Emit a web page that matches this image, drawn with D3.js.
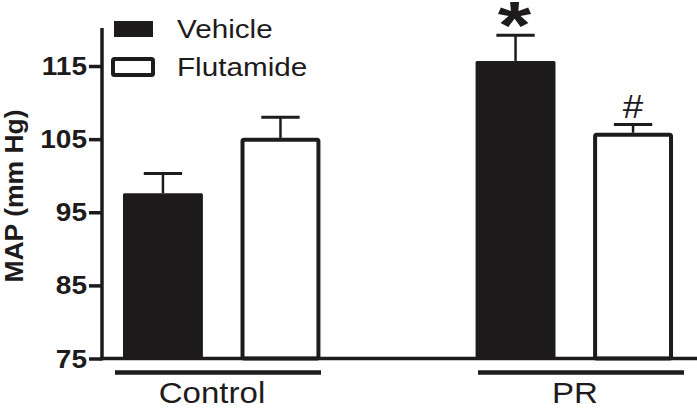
<!DOCTYPE html>
<html>
<head>
<meta charset="utf-8">
<script src="https://cdnjs.cloudflare.com/ajax/libs/d3/7.8.5/d3.min.js"></script>
<style>
  html, body { margin: 0; padding: 0; background: #ffffff; }
  svg { display: block; }
  text { font-family: "Liberation Sans", Arial, Helvetica, sans-serif; fill: #1e1b1c; }
</style>
</head>
<body>
<svg id="chart" width="697" height="409"></svg>
<script>
// ---- data ----
const categories = ["Control", "PR"];
const treatments = ["Vehicle", "Flutamide"];
const vehicleMeans = [97.6, 115.7];
const vehicleErr = [2.7, 3.5];
const flutamideMeans = [104.9, 105.6];
const flutamideErr = [3.1, 1.4];
const yTicks = [75, 85, 95, 105, 115];
const yDomain = [75, 120.2];
const yTitle = "MAP (mm Hg)";
const sigMarks = [
  { category: "PR", treatment: "Vehicle", mark: "*" },
  { category: "PR", treatment: "Flutamide", mark: "#" }
];

// ---- build rows ----
const rows = [];
categories.forEach((c, i) => {
  rows.push({ category: c, treatment: "Vehicle", mean: vehicleMeans[i], err: vehicleErr[i] });
  rows.push({ category: c, treatment: "Flutamide", mean: flutamideMeans[i], err: flutamideErr[i] });
});
const slotKey = d => d.category + "|" + d.treatment;
const slots = [];
categories.forEach((c, i) => {
  if (i > 0) slots.push("gap" + i);
  treatments.forEach(t => slots.push(c + "|" + t));
});

const ink = "#1e1b1c";
const svg = d3.select("#chart");
const SX = 1.12; // horizontal text stretch of the original figure

const y = d3.scaleLinear().domain(yDomain).range([358.5, 28]);
const x = d3.scaleBand().domain(slots).range([103, 693]).paddingInner(0.32).paddingOuter(0.17);
const bw = x.bandwidth();
const gx = d3.scaleBand().domain(categories).range([115, 684]).paddingInner(0.4325).paddingOuter(0);

// ---- bars ----
const barStroke = 4;
svg.append("g").selectAll("rect").data(rows).join("rect")
  .attr("x", d => d.treatment === "Vehicle" ? x(slotKey(d)) : x(slotKey(d)) + barStroke / 2)
  .attr("width", d => d.treatment === "Vehicle" ? bw : bw - barStroke)
  .attr("y", d => y(d.mean))
  .attr("height", d => y(yDomain[0]) - y(d.mean))
  .attr("rx", 1.5)
  .attr("fill", d => d.treatment === "Vehicle" ? ink : "#ffffff")
  .attr("stroke", d => d.treatment === "Vehicle" ? "none" : ink)
  .attr("stroke-width", barStroke);

// ---- error bars ----
const eg = svg.append("g").attr("stroke", ink);
eg.selectAll("line.v").data(rows).join("line")
  .attr("class", "v")
  .attr("x1", d => x(slotKey(d)) + bw / 2).attr("x2", d => x(slotKey(d)) + bw / 2)
  .attr("y1", d => y(d.mean) - (d.treatment === "Vehicle" ? 0 : barStroke / 2))
  .attr("y2", d => y(d.mean + d.err))
  .attr("stroke-width", 2.5);
eg.selectAll("line.c").data(rows).join("line")
  .attr("class", "c")
  .attr("x1", d => x(slotKey(d)) + bw / 2 - bw * 0.24)
  .attr("x2", d => x(slotKey(d)) + bw / 2 + bw * 0.24)
  .attr("y1", d => y(d.mean + d.err)).attr("y2", d => y(d.mean + d.err))
  .attr("stroke-width", 3);

// ---- significance marks ----
sigMarks.forEach(s => {
  const r = rows.find(d => d.category === s.category && d.treatment === s.treatment);
  const cx = x(slotKey(r)) + bw / 2;
  const top = y(r.mean + r.err);
  if (s.mark === "*") {
    svg.append("text")
      .attr("transform", `translate(${cx - 1},${top + 12.5}) scale(1.3,1)`)
      .attr("text-anchor", "middle")
      .style("font-size", "66px").style("font-weight", "bold")
      .text(s.mark);
  } else {
    svg.append("text")
      .attr("transform", `translate(${cx},${top - 7}) scale(${SX},1)`)
      .attr("text-anchor", "middle")
      .style("font-size", "33px")
      .text(s.mark);
  }
});

// ---- axes ----
const yAxis = d3.axisLeft(y).tickValues(yTicks).tickSize(13).tickSizeOuter(0).tickPadding(3);
const ag = svg.append("g").attr("transform", "translate(102,0)").call(yAxis);
ag.select(".domain").attr("stroke", ink).attr("stroke-width", 3.5)
  .attr("d", `M0,${y(yDomain[1])}V${y(yDomain[0]) + 1.75}`);
ag.selectAll(".tick line").attr("stroke", ink).attr("stroke-width", 3.5);
ag.selectAll(".tick text")
  .attr("x", null).attr("dy", null)
  .attr("transform", `translate(-15,8.5) scale(${SX},1)`)
  .attr("fill", ink)
  .style("font-size", "25px").style("font-weight", "bold")
  .style("font-family", "'Liberation Sans', Arial, sans-serif");

// baseline
svg.append("line")
  .attr("x1", 100).attr("x2", 697)
  .attr("y1", y(yDomain[0])).attr("y2", y(yDomain[0]))
  .attr("stroke", ink).attr("stroke-width", 3.5);

// y title
svg.append("text")
  .attr("transform", `translate(23,196) rotate(-90)`)
  .attr("text-anchor", "middle")
  .style("font-size", "26.5px").style("font-weight", "bold")
  .text(yTitle);

// ---- group underlines & labels ----
const gg = svg.append("g");
gg.selectAll("line").data(categories).join("line")
  .attr("x1", d => gx(d)).attr("x2", d => gx(d) + gx.bandwidth())
  .attr("y1", 372.5).attr("y2", 372.5)
  .attr("stroke", ink).attr("stroke-width", 4.5);
gg.selectAll("text").data(categories).join("text")
  .attr("transform", d => `translate(${gx(d) + gx.bandwidth() / 2 - 6},402.5) scale(${SX},1)`)
  .attr("text-anchor", "middle")
  .style("font-size", "29.5px")
  .text(d => d);

// ---- legend ----
const lg = svg.append("g");
treatments.forEach((t, i) => {
  const yy = 21 + i * 38;
  if (t === "Vehicle") {
    lg.append("rect").attr("x", 114).attr("y", yy).attr("width", 39).attr("height", 16).attr("fill", ink);
  } else {
    lg.append("rect").attr("x", 113).attr("y", yy).attr("width", 40).attr("height", 16)
      .attr("rx", 1.5).attr("fill", "#fff").attr("stroke", ink).attr("stroke-width", 4);
  }
  lg.append("text")
    .attr("transform", `translate(177,${yy + 16.5}) scale(${SX},1)`)
    .style("font-size", "26.5px")
    .text(t);
});
</script>
</body>
</html>
